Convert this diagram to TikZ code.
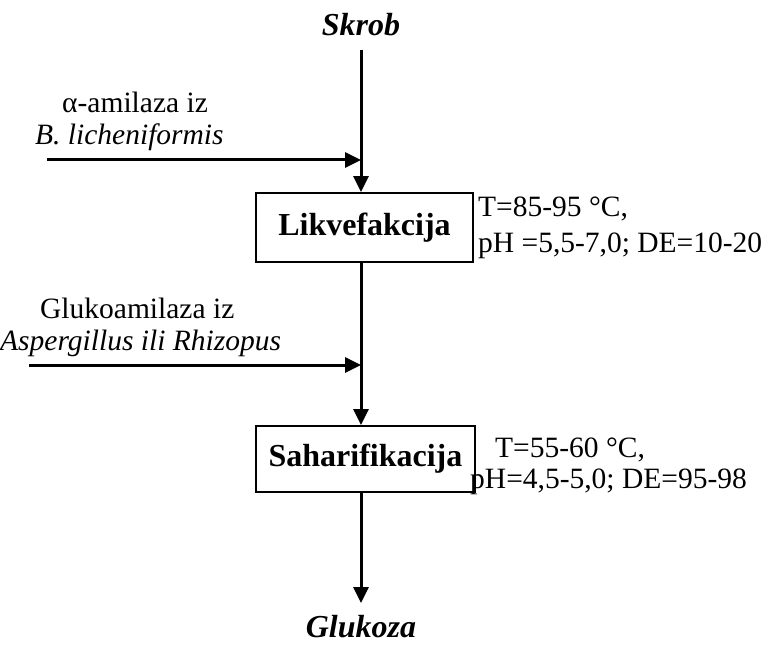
\documentclass[tikz,border=0pt]{standalone}
\usepackage{fontspec}
\setmainfont{Liberation Serif}
\usetikzlibrary{arrows.meta}
\tikzset{
  lab/.style={inner sep=0pt, font=\fontsize{29.5}{34}\selectfont},
  titl/.style={inner sep=0pt, font=\fontsize{32}{38}\selectfont\bfseries\itshape},
  procbox/.style={draw, line width=1.8pt, inner sep=0pt, font=\fontsize{32}{38}\selectfont\bfseries},
  flow/.style={line width=3pt, -{Triangle[length=16pt,width=15pt]}}
}
\begin{document}
\begin{tikzpicture}[x=1pt,y=-1pt]
\useasboundingbox (0,0) rectangle (771,655);
\node[titl, anchor=base] (skrob) at (361,36) {Skrob};
\node[procbox, minimum width=217pt, minimum height=69pt] (b1) at (364.5,227.5) {Likvefakcija};
\node[procbox, minimum width=219pt, minimum height=66pt] (b2) at (365.5,459) {Saharifikacija};
\node[titl, anchor=base] (gluk) at (361,637) {Glukoza};
\coordinate (gend) at (361,603);
% main flow
\draw[flow] ([yshift=-13pt]skrob.south) -- (skrob.south |- b1.north);
\draw[flow] (skrob.south |- b1.south) -- (skrob.south |- b2.north);
\draw[flow] (skrob.south |- b2.south) -- (gend);
% inputs
\node[lab, anchor=base west] (a1) at (62,113) {α-amilaza iz};
\node[lab, anchor=base west] (a2) at (35,145) {\itshape B. licheniformis};
\coordinate (in1) at (47,160);
\draw[flow] (in1) -- (in1 -| skrob.south);
\node[lab, anchor=base west] (g1) at (40,318) {Glukoamilaza iz};
\node[lab, anchor=base west] (g2) at (0,350) {\itshape Aspergillus ili Rhizopus};
\coordinate (in2) at (29,365);
\draw[flow] (in2) -- (in2 -| skrob.south);
% conditions
\node[lab, anchor=base west] (c1) at (478,217) {T=85-95 °C,};
\node[lab, anchor=base west] (c2) at (478,252) {pH =5,5-7,0; DE=10-20};
\node[lab, anchor=base west] (c3) at (495,457) {T=55-60 °C,};
\node[lab, anchor=base west] (c4) at (470,488) {pH=4,5-5,0; DE=95-98};
\end{tikzpicture}
\end{document}
